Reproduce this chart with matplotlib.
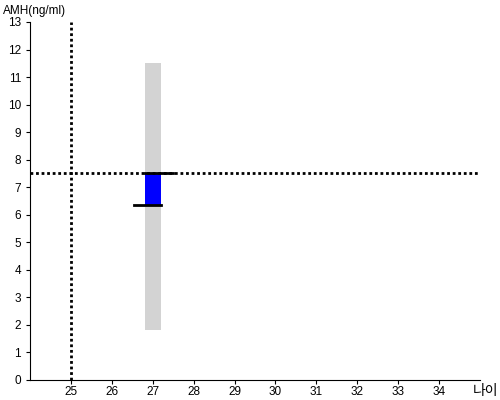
import matplotlib
matplotlib.use("Agg")
import matplotlib.pyplot as plt

plt.rcParams['font.family'] = ['Liberation Sans', 'Noto Sans CJK KR', 'DejaVu Sans']

# data
age = 27
range_low, range_high = 1.8, 11.5
amh_ref = 7.5
amh_value = 6.35
ref_age = 25
xticks = list(range(25, 35))
yticks = list(range(0, 14))

fig = plt.figure(figsize=(5, 4), dpi=100)
ax = fig.add_axes([0.06, 0.05, 0.90, 0.895])

# gray normal range
ax.bar(age, range_high - range_low, bottom=range_low, width=0.4, color='lightgray', zorder=1)
# blue difference bar
ax.bar(age, amh_ref - amh_value, bottom=amh_value, width=0.4, color='blue', zorder=2)

# reference lines
ax.axhline(amh_ref, color='black', linestyle=(0, (1, 1)), linewidth=2, zorder=3)
ax.axvline(ref_age, color='black', linestyle=(0, (1, 1)), linewidth=2, zorder=3)

# step segments
ax.plot([age - 0.2, age + 0.5], [amh_ref, amh_ref], color='black', linewidth=2, zorder=4)
ax.plot([age - 0.47, age + 0.2], [amh_value, amh_value], color='black', linewidth=2, zorder=4)

ax.set_xlim(24, 35)
ax.set_ylim(0, 13)
ax.set_xticks(xticks)
ax.set_yticks(yticks)
ax.spines['top'].set_visible(False)
ax.spines['right'].set_visible(False)
ax.tick_params(labelsize=8.5, length=3)
ax.tick_params(axis='x', pad=1.5)

fig.text(0.006, 0.972, 'AMH(ng/ml)', fontsize=8.5, ha='left', va='center')
fig.text(0.996, 0.022, '나이', fontsize=10, ha='right', va='center')

fig.savefig('out.png')
